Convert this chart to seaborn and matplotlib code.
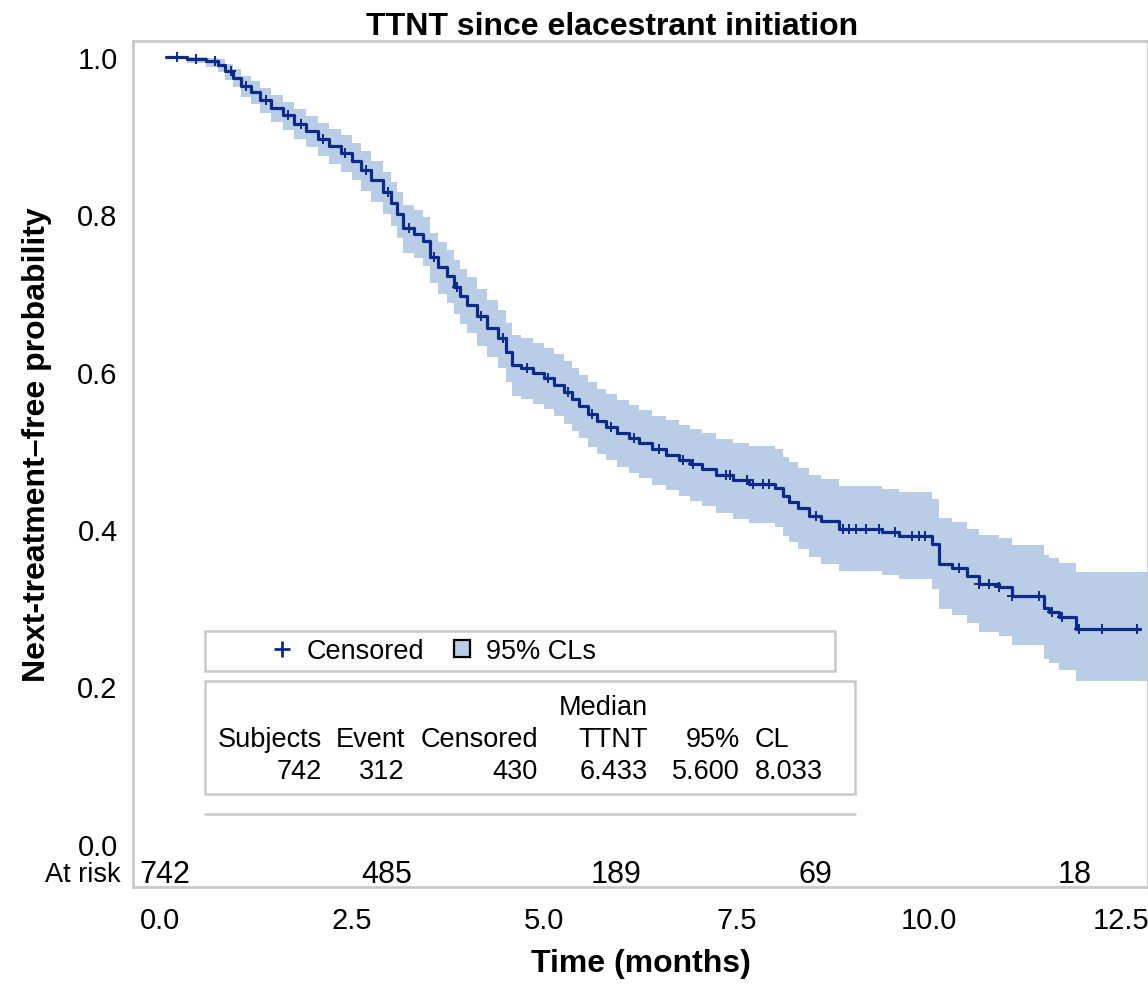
import numpy as np
import pandas as pd
import matplotlib
matplotlib.use("Agg")
import matplotlib.pyplot as plt
import seaborn as sns
from matplotlib.lines import Line2D
from matplotlib.patches import Patch, Rectangle

# ---------------- data ----------------
km_time = [0.08, 0.35, 0.60, 0.75, 0.85, 0.95, 1.05, 1.18, 1.30, 1.45, 1.60, 1.75,
           1.90, 2.05, 2.20, 2.35, 2.50, 2.62, 2.75, 2.90, 3.00, 3.08, 3.16, 3.30,
           3.42, 3.51, 3.62, 3.73, 3.82, 3.90, 4.00, 4.12, 4.25, 4.40, 4.50, 4.58,
           4.70, 4.85, 5.00, 5.12, 5.26, 5.36, 5.45, 5.57, 5.68, 5.80, 5.95, 6.10,
           6.23, 6.40, 6.58, 6.75, 6.90, 7.05, 7.23, 7.45, 7.66, 8.00, 8.10, 8.18,
           8.30, 8.44, 8.60, 8.83, 9.39, 9.61, 10.04, 10.13, 10.30, 10.50, 10.65,
           10.91, 11.08, 11.50, 11.56, 11.69, 11.91, 12.75]
km_surv = [1.000, 0.997, 0.994, 0.990, 0.982, 0.973, 0.963, 0.955, 0.945, 0.935, 0.926, 0.915,
           0.906, 0.896, 0.887, 0.878, 0.868, 0.856, 0.843, 0.828, 0.814, 0.800, 0.782, 0.775,
           0.766, 0.745, 0.733, 0.721, 0.708, 0.696, 0.685, 0.670, 0.655, 0.642, 0.625, 0.608,
           0.604, 0.598, 0.592, 0.583, 0.574, 0.565, 0.556, 0.546, 0.537, 0.530, 0.522, 0.515,
           0.509, 0.501, 0.494, 0.488, 0.482, 0.476, 0.468, 0.462, 0.457, 0.452, 0.442, 0.434,
           0.426, 0.417, 0.410, 0.400, 0.396, 0.391, 0.381, 0.356, 0.350, 0.340, 0.330,
           0.326, 0.315, 0.300, 0.295, 0.288, 0.273, 0.273]

ci_time = km_time + [12.85]
ci_lower = [1.000, 0.992, 0.987, 0.981, 0.971, 0.961, 0.949, 0.940, 0.928, 0.917, 0.907, 0.895,
            0.885, 0.874, 0.864, 0.854, 0.843, 0.830, 0.816, 0.800, 0.785, 0.770, 0.751, 0.744,
            0.734, 0.712, 0.699, 0.687, 0.673, 0.660, 0.649, 0.633, 0.618, 0.604, 0.587, 0.569,
            0.565, 0.559, 0.552, 0.543, 0.533, 0.524, 0.515, 0.504, 0.495, 0.487, 0.479, 0.471,
            0.465, 0.456, 0.449, 0.442, 0.436, 0.429, 0.420, 0.413, 0.408, 0.402, 0.391, 0.383,
            0.374, 0.364, 0.356, 0.346, 0.342, 0.336, 0.324, 0.298, 0.291, 0.280, 0.269,
            0.264, 0.252, 0.235, 0.229, 0.221, 0.207, 0.207, 0.207]
ci_upper = [1.000, 1.000, 0.999, 0.997, 0.991, 0.984, 0.976, 0.969, 0.960, 0.951, 0.943, 0.933,
            0.925, 0.916, 0.908, 0.900, 0.891, 0.880, 0.868, 0.854, 0.841, 0.828, 0.811, 0.805,
            0.796, 0.776, 0.765, 0.754, 0.742, 0.730, 0.720, 0.705, 0.691, 0.678, 0.662, 0.646,
            0.642, 0.636, 0.630, 0.622, 0.613, 0.605, 0.596, 0.587, 0.578, 0.571, 0.564, 0.557,
            0.551, 0.544, 0.538, 0.532, 0.527, 0.522, 0.514, 0.509, 0.505, 0.501, 0.492, 0.485,
            0.477, 0.469, 0.463, 0.454, 0.451, 0.447, 0.438, 0.414, 0.409, 0.400, 0.392,
            0.389, 0.379, 0.367, 0.363, 0.357, 0.345, 0.345, 0.345]

censor_time = [0.22, 0.47, 0.71, 0.93, 1.12, 1.38, 1.66, 1.83, 2.12, 2.41, 2.68, 2.97,
               3.24, 3.57, 3.86, 4.18, 4.46, 4.77, 5.05, 5.31, 5.62, 5.87, 6.17, 6.49,
               6.80, 6.93, 7.36, 7.42, 7.64, 7.71, 7.84, 7.92, 8.53, 8.88, 8.96, 9.05,
               9.18, 9.35, 9.56, 9.78, 9.87, 9.95, 10.39, 10.65, 10.78, 10.91, 11.08,
               11.43, 11.60, 11.73, 11.95, 12.25, 12.71]

risk_pos = [0.06, 2.95, 5.93, 8.52, 11.9]
risk_n = ["742", "485", "189", "69", "18"]

xticks = [0.0, 2.5, 5.0, 7.5, 10.0, 12.5]
yticks = [0.0, 0.2, 0.4, 0.6, 0.8, 1.0]

table_header = ["Subjects", "Event", "Censored", "TTNT", "95%", "CL"]
table_values = ["742", "312", "430", "6.433", "5.600", "8.033"]

# ---------------- style ----------------
sns.set_theme(style="white")
plt.rcParams["font.family"] = ["Liberation Sans", "DejaVu Sans"]
plt.rcParams["text.color"] = "black"
plt.rcParams["axes.labelcolor"] = "black"

navy = "#0b2a8a"
ci_color = "#b9cde6"
frame_gray = "#c9c9c9"

fig = plt.figure(figsize=(11.48, 9.87), dpi=100)
ax = fig.add_axes([133 / 1148, 1 - 888 / 987, 1 - 133 / 1148, (888 - 42) / 987])

km = pd.DataFrame({"time": km_time, "surv": km_surv})
ax.fill_between(ci_time, ci_lower, ci_upper, step="post", color=ci_color, lw=0, zorder=1)
sns.lineplot(data=km, x="time", y="surv", drawstyle="steps-post", color=navy,
             lw=2.3, estimator=None, sort=False, ax=ax, zorder=3)

# censored marks on the step curve
idx = np.searchsorted(np.array(km_time), np.array(censor_time), side="right") - 1
cens = pd.DataFrame({"time": censor_time, "surv": np.array(km_surv)[idx]})
sns.scatterplot(data=cens, x="time", y="surv", marker="+", s=45, color=navy,
                linewidth=1.4, ax=ax, zorder=4)

ax.set_xlim(-0.35, 12.85)
ax.set_ylim(-0.055, 1.02)
ax.set_xticks(xticks)
ax.set_xticklabels([f"{v:.1f}" for v in xticks])
ax.set_yticks(yticks)
ax.set_yticklabels([f"{v:.1f}" for v in yticks])
ax.tick_params(axis="both", which="major", length=7, width=1.2, color="#b5b5b5",
               labelsize=21, labelcolor="black", direction="out")
ax.tick_params(axis="x", pad=7)
ax.tick_params(axis="y", pad=4)
for s in ax.spines.values():
    s.set_color(frame_gray)
    s.set_linewidth(2)
ax.set_xlabel("Time (months)", fontsize=23, fontweight="bold", labelpad=10)
ax.set_ylabel("Next-treatment\u2013free probability", fontsize=23, fontweight="bold")
ax.yaxis.set_label_coords(-0.08, (888 - 445) / 846)
ax.set_title("TTNT since elacestrant initiation", fontsize=23, fontweight="bold", pad=5, x=0.472)

# at-risk row
ty = (888 - 875) / 846
for p, n in zip(risk_pos, risk_n):
    ax.text(p, ty, n, transform=ax.get_xaxis_transform(), ha="center", va="center", fontsize=22)
ax.text(-0.0125, ty, "At risk", transform=ax.transAxes, ha="right", va="center", fontsize=19.5)

# legend box
def axx(px):
    return (px - 133) / 1015

def axy(py):
    return (888 - py) / 846

ax.add_patch(Rectangle((axx(205), axy(672)), axx(835) - axx(205), axy(632) - axy(672),
                       transform=ax.transAxes, facecolor="white", edgecolor=frame_gray,
                       lw=1.8, zorder=5))
handles = [Line2D([], [], marker="+", color=navy, linestyle="none", markersize=11, mew=2),
           Patch(facecolor=ci_color, edgecolor="black", linewidth=1.6)]
ax.legend(handles, ["Censored", "95% CLs"], loc="center left",
          bbox_to_anchor=(axx(274), axy(652)), frameon=False, ncol=2, fontsize=19.5,
          handlelength=0.6, handleheight=0.6, handletextpad=0.6, columnspacing=1.1,
          borderpad=0, borderaxespad=0)

# statistics table
ax.add_patch(Rectangle((axx(205), axy(795)), axx(855) - axx(205), axy(682) - axy(795),
                       transform=ax.transAxes, facecolor="white", edgecolor=frame_gray,
                       lw=1.8, zorder=5))
ax.plot([axx(205), axx(855)], [axy(815), axy(815)], transform=ax.transAxes,
        color=frame_gray, lw=1.8, zorder=5)
col_x = [322, 405, 538, 648, 740, 755]
col_ha = ["right", "right", "right", "right", "right", "left"]
ax.text(axx(648), axy(708), "Median", transform=ax.transAxes, ha="right", va="center",
        fontsize=19.5, zorder=6)
for cx, ha, h, v in zip(col_x, col_ha, table_header, table_values):
    ax.text(axx(cx), axy(740), h, transform=ax.transAxes, ha=ha, va="center",
            fontsize=19.5, zorder=6)
    ax.text(axx(cx), axy(772), v, transform=ax.transAxes, ha=ha, va="center",
            fontsize=19.5, zorder=6)

fig.savefig("out.png", dpi=100)
